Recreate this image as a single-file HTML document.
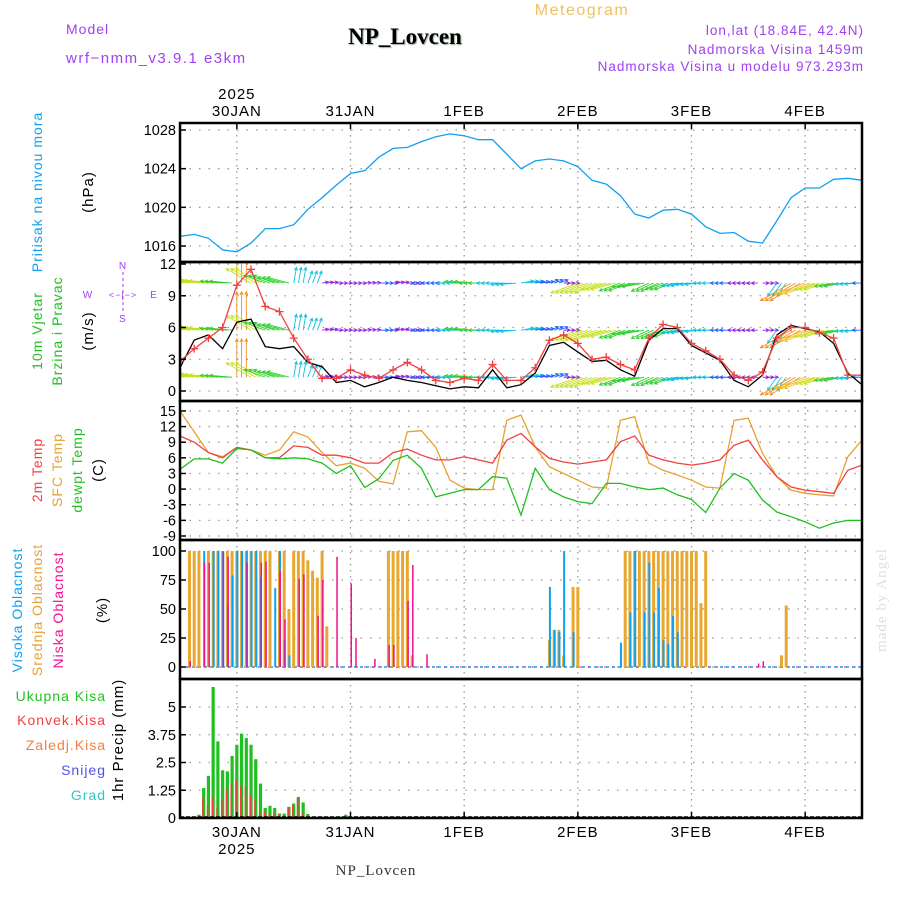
<!DOCTYPE html>
<html><head><meta charset="utf-8"><style>
html,body{margin:0;padding:0;background:#fff;}
svg{display:block;font-family:"Liberation Sans",sans-serif;}
#labels text{letter-spacing:1px;}
</style></head><body>
<svg id="chart" width="900" height="900" viewBox="0 0 900 900" xmlns="http://www.w3.org/2000/svg">
<rect width="900" height="900" fill="#fff"/>
<g>
<text x="582" y="15" text-anchor="middle" font-size="16" fill="#f0c060" letter-spacing="1.5">Meteogram</text>
<text x="66" y="34" font-size="14" fill="#a040f0" letter-spacing="1">Model</text>
<text x="66" y="63" font-size="15" fill="#a040f0" letter-spacing="1.5">wrf−nmm_v3.9.1  e3km</text>
<text x="405" y="44" text-anchor="middle" font-size="23" font-weight="bold" font-family="Liberation Serif, serif" fill="#000" style="text-shadow:1px 1px 1px #9a9">NP_Lovcen</text>
<text x="864" y="35" text-anchor="end" font-size="13.5" fill="#a040f0" letter-spacing="1">lon,lat (18.84E, 42.4N)</text>
<text x="864" y="54" text-anchor="end" font-size="13.5" fill="#a040f0" letter-spacing="1">Nadmorska Visina 1459m</text>
<text x="864" y="71" text-anchor="end" font-size="13.5" fill="#a040f0" letter-spacing="1">Nadmorska Visina u modelu 973.293m</text>
</g>
<g id="grid"></g>
<g id="marks"></g>
<g id="frames"></g>
<g id="labels">
<text transform="translate(42,192) rotate(-90)" text-anchor="middle" font-size="14" fill="#10a0f0">Pritisak na nivou mora</text>
<text transform="translate(93,192) rotate(-90)" text-anchor="middle" font-size="15" fill="#000">(hPa)</text>
<text transform="translate(42,331) rotate(-90)" text-anchor="middle" font-size="14" fill="#20c020">10m Vjetar</text>
<text transform="translate(62,331) rotate(-90)" text-anchor="middle" font-size="14" fill="#20c020">Brzina i Pravac</text>
<text transform="translate(93,331) rotate(-90)" text-anchor="middle" font-size="15" fill="#000">(m/s)</text>
<g fill="#a040f0" stroke="none" font-size="10">
<text x="123" y="269" text-anchor="middle">N</text>
<text x="123" y="322" text-anchor="middle">S</text>
<text x="88" y="298" text-anchor="middle">W</text>
<text x="154" y="298" text-anchor="middle">E</text>
<text x="123" y="298" text-anchor="middle" font-size="9">&lt;−|−&gt;</text>
<line x1="123" y1="272" x2="123" y2="312" stroke="#a040f0" stroke-dasharray="3,3"/>
</g>
<text transform="translate(42,470) rotate(-90)" text-anchor="middle" font-size="14" fill="#f04040">2m Temp</text>
<text transform="translate(62,470) rotate(-90)" text-anchor="middle" font-size="14" fill="#e8a030">SFC Temp</text>
<text transform="translate(82,470) rotate(-90)" text-anchor="middle" font-size="14" fill="#20c020">dewpt Temp</text>
<text transform="translate(103,470) rotate(-90)" text-anchor="middle" font-size="15" fill="#000">(C)</text>
<text transform="translate(22,610) rotate(-90)" text-anchor="middle" font-size="14" fill="#10a0f0">Visoka Oblacnost</text>
<text transform="translate(42,610) rotate(-90)" text-anchor="middle" font-size="14" fill="#e8a030">Srednja Oblacnost</text>
<text transform="translate(63,610) rotate(-90)" text-anchor="middle" font-size="14" fill="#f01090">Niska Oblacnost</text>
<text transform="translate(107,610) rotate(-90)" text-anchor="middle" font-size="15" fill="#000">(%)</text>
<text x="106" y="701" text-anchor="end" font-size="14" fill="#20c020">Ukupna  Kisa</text>
<text x="106" y="725" text-anchor="end" font-size="14" fill="#f04040">Konvek.Kisa</text>
<text x="106" y="750" text-anchor="end" font-size="14" fill="#f08040">Zaledj.Kisa</text>
<text x="106" y="775" text-anchor="end" font-size="14" fill="#5050f0">Snijeg</text>
<text x="106" y="800" text-anchor="end" font-size="14" fill="#30c8c8">Grad</text>
<text transform="translate(123,740) rotate(-90)" text-anchor="middle" font-size="15" fill="#000">1hr Precip (mm)</text>
<text x="376" y="875" text-anchor="middle" font-size="15" font-family="Liberation Serif, serif" fill="#333">NP_Lovcen</text>
<text transform="translate(886,600) rotate(-90)" text-anchor="middle" font-size="15" font-family="Liberation Serif, serif" fill="#d8e4d8">made by Angel</text>
</g>
</svg>
<script>
const lineHours=[0,3,6,9,12,15,18,21,24,27,30,33,36,39,42,45,48,51,54,57,60,63,66,69,72,75,78,81,84,87,90,93,96,99,102,105,108,111,114,117,120,123,126,129,132,135,138,141,144];
const pressure=[1017.0,1017.2,1016.8,1015.6,1015.4,1016.3,1017.8,1017.8,1018.2,1019.8,1021.0,1022.3,1023.5,1023.8,1025.2,1026.1,1026.2,1026.8,1027.3,1027.6,1027.4,1027.0,1027.0,1025.5,1024.0,1024.8,1025.0,1024.8,1024.2,1022.8,1022.4,1021.2,1019.3,1018.9,1019.7,1019.8,1019.3,1018.0,1017.3,1017.4,1016.5,1016.3,1018.6,1021.0,1022.0,1022.0,1022.9,1023.0,1022.8];
const windSpeed=[2.2,4.8,5.3,4.0,6.5,6.8,4.2,4.0,4.2,2.7,2.3,0.8,1.0,0.4,0.8,1.3,1.0,0.8,0.5,0.2,0.4,0.3,2.0,0.3,0.6,1.7,4.3,4.6,3.7,2.8,2.9,2.0,1.4,4.8,5.9,5.9,4.3,3.6,2.9,1.0,0.4,1.5,5.3,6.2,5.9,5.6,4.5,1.7,0.6];
const windGust=[2.8,4.0,5.0,6.0,10.0,11.5,8.0,7.5,5.0,3.0,1.2,1.2,2.0,1.5,1.2,2.0,2.7,2.0,1.0,0.8,1.2,1.0,2.5,1.0,1.0,2.2,4.8,5.3,4.5,3.0,3.2,2.5,2.0,5.0,6.3,6.0,4.5,3.8,3.0,1.5,1.0,1.8,5.0,6.0,6.0,5.5,5.0,1.5,1.5];
const arrowDir=[170,170,175,175,90,150,160,165,80,70,10,0,0,5,0,10,0,180,180,180,175,180,180,185,10,10,20,0,200,200,195,200,190,205,200,190,185,180,180,180,180,0,235,210,200,195,190,185,180];
const arrowSpd=[8,8,9,7,12,9,7,7,5,4,2,2,2,2,3,2,2,3,3,4,6,6,5,5,4,3,3,2,9,9,8,7,7,6,6,5,5,4,3,2,2,2,5,11,10,8,6,4,3];
const arrowLevels=[10.2,5.75,1.3];
const temp2m=[10.2,9.0,7.0,6.0,8.0,7.5,6.0,6.0,8.3,8.0,6.5,6.5,6.0,5.0,5.0,7.0,7.7,6.5,5.6,5.6,6.2,5.6,5.0,9.4,10.7,8.1,5.9,5.2,4.8,5.2,5.6,9.1,10.2,6.5,5.6,5.0,4.6,5.0,5.6,8.4,9.4,5.6,2.4,0.4,-0.2,-0.5,-0.8,3.6,4.6];
const tempSfc=[15.0,11.0,7.0,6.2,8.0,7.5,6.5,7.5,11.0,10.0,7.0,4.5,5.0,4.0,1.5,1.0,11.0,11.2,8.0,1.7,0.2,-0.1,-0.1,13.2,14.2,8.1,4.3,3.0,1.7,0.4,0.2,13.2,13.9,5.0,3.6,2.7,1.7,0.4,0.2,13.2,13.6,6.9,2.4,-0.2,-0.8,-1.1,-1.3,6.2,9.4];
const dewpt=[3.8,5.8,5.8,5.0,7.8,7.5,6.0,5.8,6.0,5.8,5.0,3.0,4.5,0.3,2.0,5.5,6.5,4.0,-1.5,-0.8,-0.1,-0.1,2.4,2.1,-5.0,4.0,-0.1,-1.5,-2.4,-2.8,1.1,1.1,0.4,-0.1,0.2,-1.1,-2.0,-4.5,0.2,3.0,1.7,-2.1,-4.4,-5.3,-6.3,-7.5,-6.5,-6.0,-6.0];
const cloudHigh=new Array(144).fill(0);
const cloudMid=new Array(144).fill(0);
const cloudLow=new Array(144).fill(0);
const highObs=[[5,100],[7,100],[8,100],[9,100],[10,53],[11,79],[12,100],[13,100],[14,100],[15,100],[16,100],[17,77],[20,68],[21,100],[22,23],[23,10],[78,69],[79,32],[80,30],[81,100],[83,30],[93,21],[95,47],[96,100],[98,47],[99,90],[100,47],[101,68],[102,23],[103,20],[104,44],[105,30]];
const midObs=[[2,100],[3,100],[4,100],[6,100],[7,100],[8,100],[9,100],[10,100],[11,100],[12,100],[13,100],[14,100],[15,100],[16,100],[17,100],[18,100],[19,100],[21,100],[22,100],[23,50],[24,100],[25,100],[26,100],[27,92],[28,83],[29,77],[30,100],[31,35],[44,100],[45,100],[46,100],[47,100],[48,100],[49,10],[78,23],[79,32],[80,32],[81,10],[83,69],[84,69],[94,100],[95,100],[96,100],[97,100],[98,100],[99,100],[100,100],[101,100],[102,100],[103,100],[104,100],[105,100],[106,100],[107,100],[108,100],[109,100],[110,55],[111,100],[127,10],[128,53]];
const lowObs=[[2,5],[5,90],[6,90],[9,99],[10,95],[14,90],[17,90],[18,91],[21,83],[22,41],[25,76],[26,80],[29,44],[30,75],[33,95],[36,72],[37,25],[41,7],[44,19],[45,19],[48,57],[49,88],[52,11],[122,3],[123,5]];
highObs.forEach(p=>cloudHigh[p[0]]=p[1]);
midObs.forEach(p=>cloudMid[p[0]]=p[1]);
lowObs.forEach(p=>cloudLow[p[0]]=p[1]);
const precipTotal=new Array(144).fill(0);
const precipConv=new Array(144).fill(0);
const totObs=[[4,0.15],[5,1.35],[6,1.9],[7,5.9],[8,3.45],[9,2.15],[10,2.1],[11,2.8],[12,3.3],[13,3.8],[14,3.6],[15,3.3],[16,2.65],[17,1.55],[18,0.45],[19,0.55],[20,0.45],[21,0.2],[22,0.2],[23,0.5],[24,0.65],[25,0.95],[26,0.7],[27,0.18],[34,0.05],[35,0.15],[50,0.08]];
const convObs=[[4,0.1],[5,0.9],[6,0.55],[7,0.95],[8,0.45],[9,0.8],[10,1.3],[11,1.55],[12,1.7],[13,1.45],[14,1.4],[15,1.0],[16,0.8],[17,0.3],[18,0.3],[19,0.2],[20,0.2],[21,0.2],[22,0.1],[23,0.5],[24,0.6],[25,0.9],[26,0.2],[27,0.15]];
totObs.forEach(p=>precipTotal[p[0]]=p[1]);
convObs.forEach(p=>precipConv[p[0]]=p[1]);
const dayLabels=["30JAN","31JAN","1FEB","2FEB","3FEB","4FEB"];
const dayHours=[12,36,60,84,108,132];
const pTicks=[1016,1020,1024,1028];
const wTicks=[0,3,6,9,12];
const tTicks=[-9,-6,-3,0,3,6,9,12,15];
const cTicks=[0,25,50,75,100];
const rTicks=[0,1.25,2.5,3.75,5];
const rTickLabels=["0","1.25","2.5","3.75","5"];

const NS="http://www.w3.org/2000/svg";
const L=180,R=862;
const X=h=>L+h*(R-L)/144;
const yP=v=>130+(1028-v)*9.667;
const yW=v=>391-v*10.58;
const yT=v=>489.1-v*5.21;
const yC=v=>667-v*1.16;
const yR=v=>818-v*22.2;
const panels=[[123,262],[262,401],[401,540],[540,679],[679,818]];
function mk(tag,attrs,parent){const e=document.createElementNS(NS,tag);for(const k in attrs)e.setAttribute(k,attrs[k]);parent.appendChild(e);return e;}
const grid=document.getElementById('grid'),marks=document.getElementById('marks'),frames=document.getElementById('frames');

dayHours.forEach((h,i)=>{
  panels.forEach(p=>{
    const ln=mk('line',{x1:X(h),x2:X(h),y1:p[0],y2:p[1],stroke:'#999','stroke-dasharray':'1.5,4.5','stroke-width':1.3},grid);
    
    
  });
  const t=mk('text',{x:X(h),y:116,'text-anchor':'middle','font-size':15,fill:'#000','letter-spacing':1},frames);
  t.textContent=dayLabels[i];
  
  
  const b=mk('text',{x:X(h),y:837,'text-anchor':'middle','font-size':15,fill:'#000','letter-spacing':1},frames);
  b.textContent=dayLabels[i];
  
  
  mk('line',{x1:X(h),x2:X(h),y1:123,y2:129,stroke:'#000','stroke-width':1.5},frames);
  mk('line',{x1:X(h),x2:X(h),y1:812,y2:818,stroke:'#000','stroke-width':1.5},frames);
});
[[99,"top-year"],[854,"bottom-year"]].forEach(a=>{
  const t=mk('text',{x:X(12),y:a[0],'text-anchor':'middle','font-size':15,fill:'#000','letter-spacing':1},frames);
  t.textContent="2025";
  
  
});

function yAxis(ticks,labels,fy,name){
  ticks.forEach((v,i)=>{
    const y=fy(v);
    const g=mk('line',{x1:L,x2:R,y1:y,y2:y,stroke:'#999','stroke-dasharray':'1.5,8','stroke-width':1.3},grid);
    
    
    mk('line',{x1:L,x2:L+6,y1:y,y2:y,stroke:'#000','stroke-width':1.5},frames);
    const t=mk('text',{x:L-4,y:y+5,'text-anchor':'end','font-size':14.5,fill:'#000'},frames);
    t.textContent=labels?labels[i]:String(v);
    
    
  });
}
yAxis(pTicks,null,yP,'pressure');
yAxis(wTicks,null,yW,'wind');
yAxis(tTicks,null,yT,'temp');
yAxis(cTicks,null,yC,'cloud');
yAxis(rTicks,rTickLabels,yR,'precip');

panels.forEach(p=>{
  const r=mk('rect',{x:L,y:p[0],width:R-L,height:p[1]-p[0],fill:'none',stroke:'#000','stroke-width':2.5},frames);
  
  
});

const defs=mk('defs',{},document.getElementById('chart'));
panels.forEach((p,i)=>{const c=mk('clipPath',{id:'cp'+i},defs);mk('rect',{x:L,y:p[0],width:R-L,height:p[1]-p[0]},c);});

function line(vals,fy,color,name,clip){
  const d=vals.map((v,i)=>(i?'L':'M')+X(lineHours[i]).toFixed(1)+','+fy(v).toFixed(1)).join('');
  const p=mk('path',{d:d,fill:'none',stroke:color,'stroke-width':1.3,'clip-path':'url(#cp'+clip+')'},marks);
  
  
}
line(pressure,yP,'#10a0f0','pressure-line',0);

const arrowsG=mk('g',{'clip-path':'url(#cp1)'},marks);


function spdColor(s){if(s<2.5)return'#9020e0';if(s<4)return'#2060ff';if(s<5.5)return'#10c0e0';if(s<7.5)return'#30d030';if(s<9.5)return'#c8e020';if(s<11)return'#f0c020';return'#f09020';}
for(let h=0;h<=144;h++){
  const i=Math.min(48,Math.floor(h/3));
  const a=arrowDir[i]*Math.PI/180,len=arrowSpd[i]*3.2,col=spdColor(arrowSpd[i]);
  arrowLevels.forEach(lv=>{
    const x0=X(h),y0=yW(lv),x1=x0+len*Math.cos(a),y1=y0-len*Math.sin(a);
    const hl=3.5,a1=a+Math.PI*0.85,a2=a-Math.PI*0.85;
    const ar=mk('path',{d:`M${x0},${y0}L${x1},${y1}M${x1+hl*Math.cos(a1)},${y1-hl*Math.sin(a1)}L${x1},${y1}L${x1+hl*Math.cos(a2)},${y1-hl*Math.sin(a2)}`,stroke:col,'stroke-width':0.9,fill:'none'},arrowsG);
    
    
  });
}
line(windSpeed,yW,'#000','wind-speed-line',1);
line(windGust,yW,'#f04040','wind-gust-line',1);
windGust.forEach((v,i)=>{
  const x=X(lineHours[i]),y=yW(v);
  const m=mk('path',{d:`M${x-4},${y}H${x+4}M${x},${y-4}V${y+4}`,stroke:'#f04040','stroke-width':1.3,'clip-path':'url(#cp1)'},marks);
  
  
});

line(tempSfc,yT,'#e8a030','sfc-temp-line',2);
line(temp2m,yT,'#f04040','temp-2m-line',2);
line(dewpt,yT,'#20c020','dewpt-line',2);

function bars(vals,fy,color,w,off,name){
  vals.forEach((v,h)=>{
    if(v<=0)return;
    const x=X(h)+off,y=fy(v),y0=fy(0);
    const r=mk('rect',{x:x,y:y,width:w,height:y0-y,fill:color},marks);
    
    
  });
}
mk('line',{x1:L,x2:R,y1:yC(0),y2:yC(0),stroke:'#10a0f0','stroke-width':1.5,'stroke-dasharray':'3,3'},marks);
mk('line',{x1:L,x2:R,y1:yC(0),y2:yC(0),stroke:'#f01090','stroke-width':1,'stroke-dasharray':'2,6'},marks);
bars(cloudMid,yC,'#e8a830',3,-1.5,'mid-cloud-bar');
bars(cloudHigh,yC,'#10a0f0',2,-0.5,'high-cloud-bar');
bars(cloudLow,yC,'#f01090',1.5,0,'low-cloud-bar');

bars(precipTotal,yR,'#20c020',3.2,-1.6,'precip-total-bar');
bars(precipConv,yR,'#f04040',1.6,-1.6,'precip-conv-bar');
mk('line',{x1:L,x2:R,y1:yR(0)-1,y2:yR(0)-1,stroke:'#000','stroke-width':1.5,'stroke-dasharray':'4,2'},marks);
</script>
</body></html>
